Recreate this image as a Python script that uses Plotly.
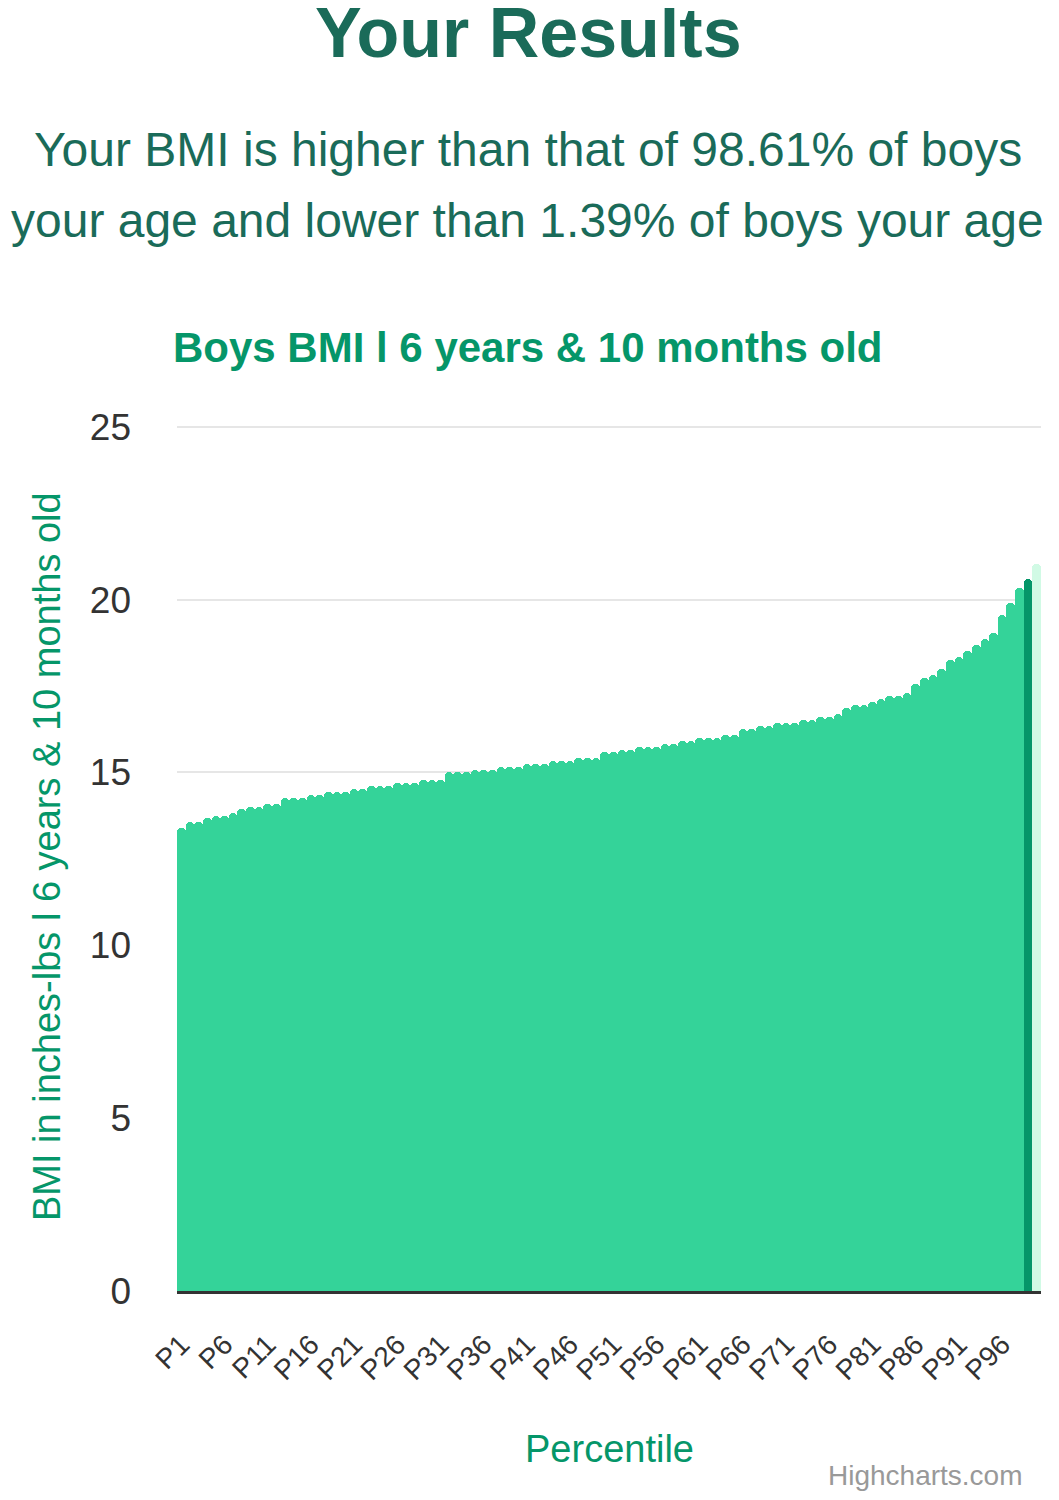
import plotly.graph_objects as go

# Percentile categories and BMI values
percentiles = [f"P{i}" for i in range(1, 101)]
bmi_values = [
    13.40, 13.57, 13.56, 13.67, 13.75, 13.75, 13.84, 13.93, 14.00, 14.00,
    14.09, 14.09, 14.26, 14.26, 14.26, 14.35, 14.35, 14.44, 14.44, 14.44,
    14.53, 14.53, 14.61, 14.61, 14.61, 14.69, 14.69, 14.69, 14.78, 14.78,
    14.78, 15.02, 15.02, 15.02, 15.08, 15.08, 15.08, 15.16, 15.16, 15.16,
    15.24, 15.24, 15.24, 15.32, 15.32, 15.32, 15.41, 15.41, 15.41, 15.58,
    15.58, 15.65, 15.65, 15.73, 15.73, 15.73, 15.82, 15.82, 15.90, 15.90,
    15.99, 15.99, 15.99, 16.09, 16.09, 16.25, 16.25, 16.34, 16.34, 16.43,
    16.43, 16.43, 16.51, 16.51, 16.59, 16.60, 16.69, 16.86, 16.95, 16.95,
    17.03, 17.13, 17.21, 17.21, 17.30, 17.55, 17.73, 17.82, 17.99, 18.24,
    18.33, 18.51, 18.68, 18.85, 19.02, 19.54, 19.89, 20.33, 20.59, 21.03,
]
tick_labels = percentiles[::5]
y_ticks = [0, 5, 10, 15, 20, 25]

user_percentile = "P99"
top_percentile = "P100"

FONT = "Liberation Sans, Arial, Helvetica, sans-serif"
GREEN = "#34d399"
DARK = "#059669"
LIGHT = "#d1fae5"
HEAD = "#1a6b59"

# the page body has an 8px margin, so the figure is drawn from (8, 8)
BODY = 8
FIG_W, FIG_H = 1059 - BODY, 1500 - BODY

# plot area in page pixels (y top is a hair above the 25 line so its grid shows)
L, R, T, B = 177, 1041, 425, 1291
W = R - L
H = B - T
Y_MAX = 25.05


def px_x(px):
    return (px - L) / W


def px_y(py):
    return (B - py) / H


colors = []
for p in percentiles:
    if p == user_percentile:
        colors.append(DARK)
    elif p == top_percentile:
        colors.append(LIGHT)
    else:
        colors.append(GREEN)

bars = go.Bar(
    x=percentiles,
    y=bmi_values,
    marker=dict(color=colors, line=dict(width=0), cornerradius="50%"),
    hovertemplate="%{x}: %{y}<extra></extra>",
)


def note(text, x, y, size, color, bold=False, xanchor="center", angle=0):
    if bold:
        text = f"<b>{text}</b>"
    return dict(
        text=text, x=px_x(x), y=px_y(y), xref="paper", yref="paper",
        xanchor=xanchor, yanchor="middle", showarrow=False, textangle=angle,
        font=dict(family=FONT, size=size, color=color),
    )


annotations = [
    note("Your Results", 528, 33, 70, HEAD, bold=True),
    note("Your BMI is higher than that of 98.61% of boys", 528, 149, 48, HEAD),
    note("your age and lower than 1.39% of boys your age", 527, 220, 48, HEAD),
    note("Boys BMI l 6 years &amp; 10 months old", 528, 347, 42, DARK, bold=True),
    note("BMI in inches-lbs l 6 years &amp; 10 months old", 47, 857, 38, DARK, angle=-90),
    note("Percentile", 609, 1449, 38, DARK),
    note("Highcharts.com", 1025, 1475, 28, "#999999", xanchor="right"),
]

layout = go.Layout(
    width=FIG_W,
    height=FIG_H,
    autosize=False,
    margin=dict(l=L - BODY, r=FIG_W - (R - BODY), t=T - BODY, b=FIG_H - (B - BODY), pad=0),
    paper_bgcolor="white",
    plot_bgcolor="white",
    bargap=0,
    showlegend=False,
    font=dict(family=FONT, color="#333333"),
    xaxis=dict(
        type="category",
        tickvals=tick_labels,
        ticktext=tick_labels,
        tickangle=-45,
        tickfont=dict(size=28, color="#333333"),
        ticks="",
        ticklabelstandoff=23,
        showline=True,
        linecolor="#333333",
        linewidth=3,
        showgrid=False,
        fixedrange=True,
    ),
    yaxis=dict(
        range=[0, Y_MAX],
        tickvals=y_ticks,
        tickfont=dict(size=37, color="#333333"),
        ticks="",
        ticklabelstandoff=45,
        showline=False,
        zeroline=False,
        showgrid=True,
        gridcolor="#e6e6e6",
        gridwidth=2,
        fixedrange=True,
    ),
    annotations=annotations,
)

fig = go.Figure(data=[bars], layout=layout)
fig.write_html("out.html", config={"displayModeBar": False})
